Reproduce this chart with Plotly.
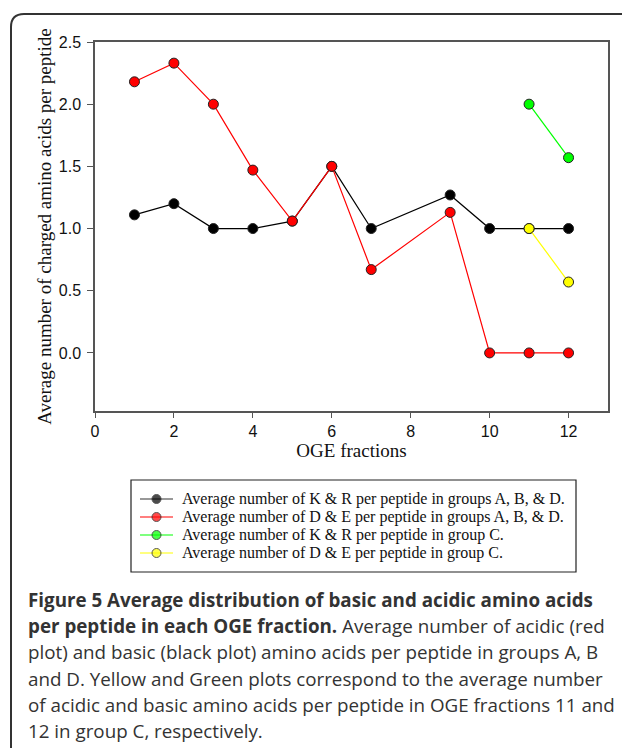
import plotly.graph_objects as go

# ---- data ----
fractions_abd = [1, 2, 3, 4, 5, 6, 7, 9, 10, 11, 12]
kr_abd = [1.11, 1.20, 1.00, 1.00, 1.06, 1.50, 1.00, 1.27, 1.00, 1.00, 1.00]
de_abd = [2.18, 2.33, 2.00, 1.47, 1.06, 1.50, 0.67, 1.13, 0.00, 0.00, 0.00]
fractions_c = [11, 12]
kr_c = [2.00, 1.57]
de_c = [1.00, 0.57]

series_names = [
    "Average number of K & R per peptide in groups A, B, & D.",
    "Average number of D & E per peptide in groups A, B, & D.",
    "Average number of K & R per peptide in group C.",
    "Average number of D & E per peptide in group C.",
]
x_ticks = [0, 2, 4, 6, 8, 10, 12]
y_ticks = [0.0, 0.5, 1.0, 1.5, 2.0, 2.5]
x_title = "OGE fractions"
y_title = "Average number of charged amino acids per peptide"
caption_lines = [
    "<b>Figure 5 Average distribution of basic and acidic amino acids</b>",
    "<b>per peptide in each OGE fraction.</b> Average number of acidic (red",
    "plot) and basic (black plot) amino acids per peptide in groups A, B",
    "and D. Yellow and Green plots correspond to the average number",
    "of acidic and basic amino acids per peptide in OGE fractions 11 and",
    "12 in group C, respectively.",
]

# ---- layout geometry (pixels, figure = paper) ----
W, H = 622, 748
L, R, T, B = 95, 608, 42, 411


def px(xp):
    return xp / W


def py(yp):
    return 1 - yp / H


# legend box geometry
LG_L, LG_R, LG_T, LG_B = 131, 576, 480, 572
LG_ROW0, LG_DY = 499, 18
LG_SYM0, LG_SYM1, LG_TXT = 140, 173, 180

serif = "Liberation Serif, Times New Roman, serif"
sans = "Liberation Sans, Arial, sans-serif"

fig = go.Figure()

colors = ["#000000", "#ff0000", "#00ff00", "#ffff00"]
xs = [fractions_abd, fractions_abd, fractions_c, fractions_c]
ys = [kr_abd, de_abd, kr_c, de_c]
for name, x, y, c in zip(series_names, xs, ys, colors):
    fig.add_trace(go.Scatter(
        x=x, y=y, name=name, mode="lines+markers", showlegend=False,
        line=dict(color=c, width=1.2),
        marker=dict(color=c, size=10, line=dict(color="#222222", width=1)),
    ))

# legend symbols on an overlay axis measured in pixels of the legend box
for i, (name, c) in enumerate(zip(series_names, colors)):
    row = LG_ROW0 + i * LG_DY
    mid = (LG_SYM0 + LG_SYM1) / 2
    fig.add_trace(go.Scatter(
        x=[LG_SYM0, mid, LG_SYM1], y=[row, row, row],
        xaxis="x2", yaxis="y2", mode="lines+markers", showlegend=False,
        hoverinfo="skip",
        line=dict(color=c if c != "#000000" else "#333333", width=1.2),
        marker=dict(color=c, size=[0, 9, 0],
                    line=dict(color="#111111", width=[0, 1, 0])),
    ))
    fig.add_annotation(
        text=name, xref="paper", yref="paper",
        x=px(LG_TXT), y=py(row), xanchor="left", yanchor="middle",
        showarrow=False, font=dict(family=serif, size=16, color="#111111"),
    )

fig.add_shape(type="rect", xref="paper", yref="paper",
              x0=px(LG_L), x1=px(LG_R), y0=py(LG_B), y1=py(LG_T),
              line=dict(color="#222222", width=1.2))

fig.update_layout(
    width=W, height=H,
    margin=dict(l=0, r=0, t=0, b=0, pad=0, autoexpand=False),
    paper_bgcolor="white", plot_bgcolor="white",
    showlegend=False,
    xaxis=dict(
        domain=[px(L), px(R)],
        range=[0, 13], tickvals=x_ticks,
        showgrid=False, zeroline=False, showline=True, mirror=True,
        linecolor="#555555", linewidth=1.5,
        ticks="outside", ticklen=5, tickcolor="#555555",
        tickfont=dict(family=sans, size=16, color="#111111"),
        title=dict(text=x_title, font=dict(family=serif, size=19, color="#111111"), standoff=3),
        automargin=False,
    ),
    yaxis=dict(
        domain=[py(B), py(T)],
        range=[-0.467, 2.5], tickvals=y_ticks,
        tickformat=".1f",
        showgrid=False, zeroline=False, showline=True, mirror=True,
        linecolor="#555555", linewidth=1.5,
        ticks="outside", ticklen=6, tickcolor="#555555",
        tickfont=dict(family=sans, size=16, color="#111111"),
        ticklabelstandoff=3,
        title=dict(text=y_title, font=dict(family=serif, size=19, color="#111111"), standoff=2),
        automargin=False,
    ),
    xaxis2=dict(domain=[px(LG_L), px(LG_R)], range=[LG_L, LG_R], anchor="y2",
                visible=False, fixedrange=True),
    yaxis2=dict(domain=[py(LG_B), py(LG_T)], range=[LG_B, LG_T], anchor="x2",
                visible=False, fixedrange=True),
)

# outer rounded border (extends past right/bottom of the image)
x0, y0, r = 11, 14, 13
path = (f"M {px(x0)},{py(H + 10)} L {px(x0)},{py(y0 + r)} "
        f"Q {px(x0)},{py(y0)} {px(x0 + r)},{py(y0)} L {px(W + 10)},{py(y0)}")
fig.add_shape(type="path", path=path, xref="paper", yref="paper",
              line=dict(color="#333333", width=2))

# caption
cap_font = "Open Sans, Noto Sans, sans-serif"
for i, line in enumerate(caption_lines):
    fig.add_annotation(
        text=line, xref="paper", yref="paper",
        x=px(26), y=py(600 + i * 26.2), xanchor="left", yanchor="middle",
        showarrow=False, align="left",
        font=dict(family=cap_font, size=18.8, color="#333333"),
    )

fig.write_html("out.html", config={"displayModeBar": False},
               post_script="document.body.style.margin='0';")
